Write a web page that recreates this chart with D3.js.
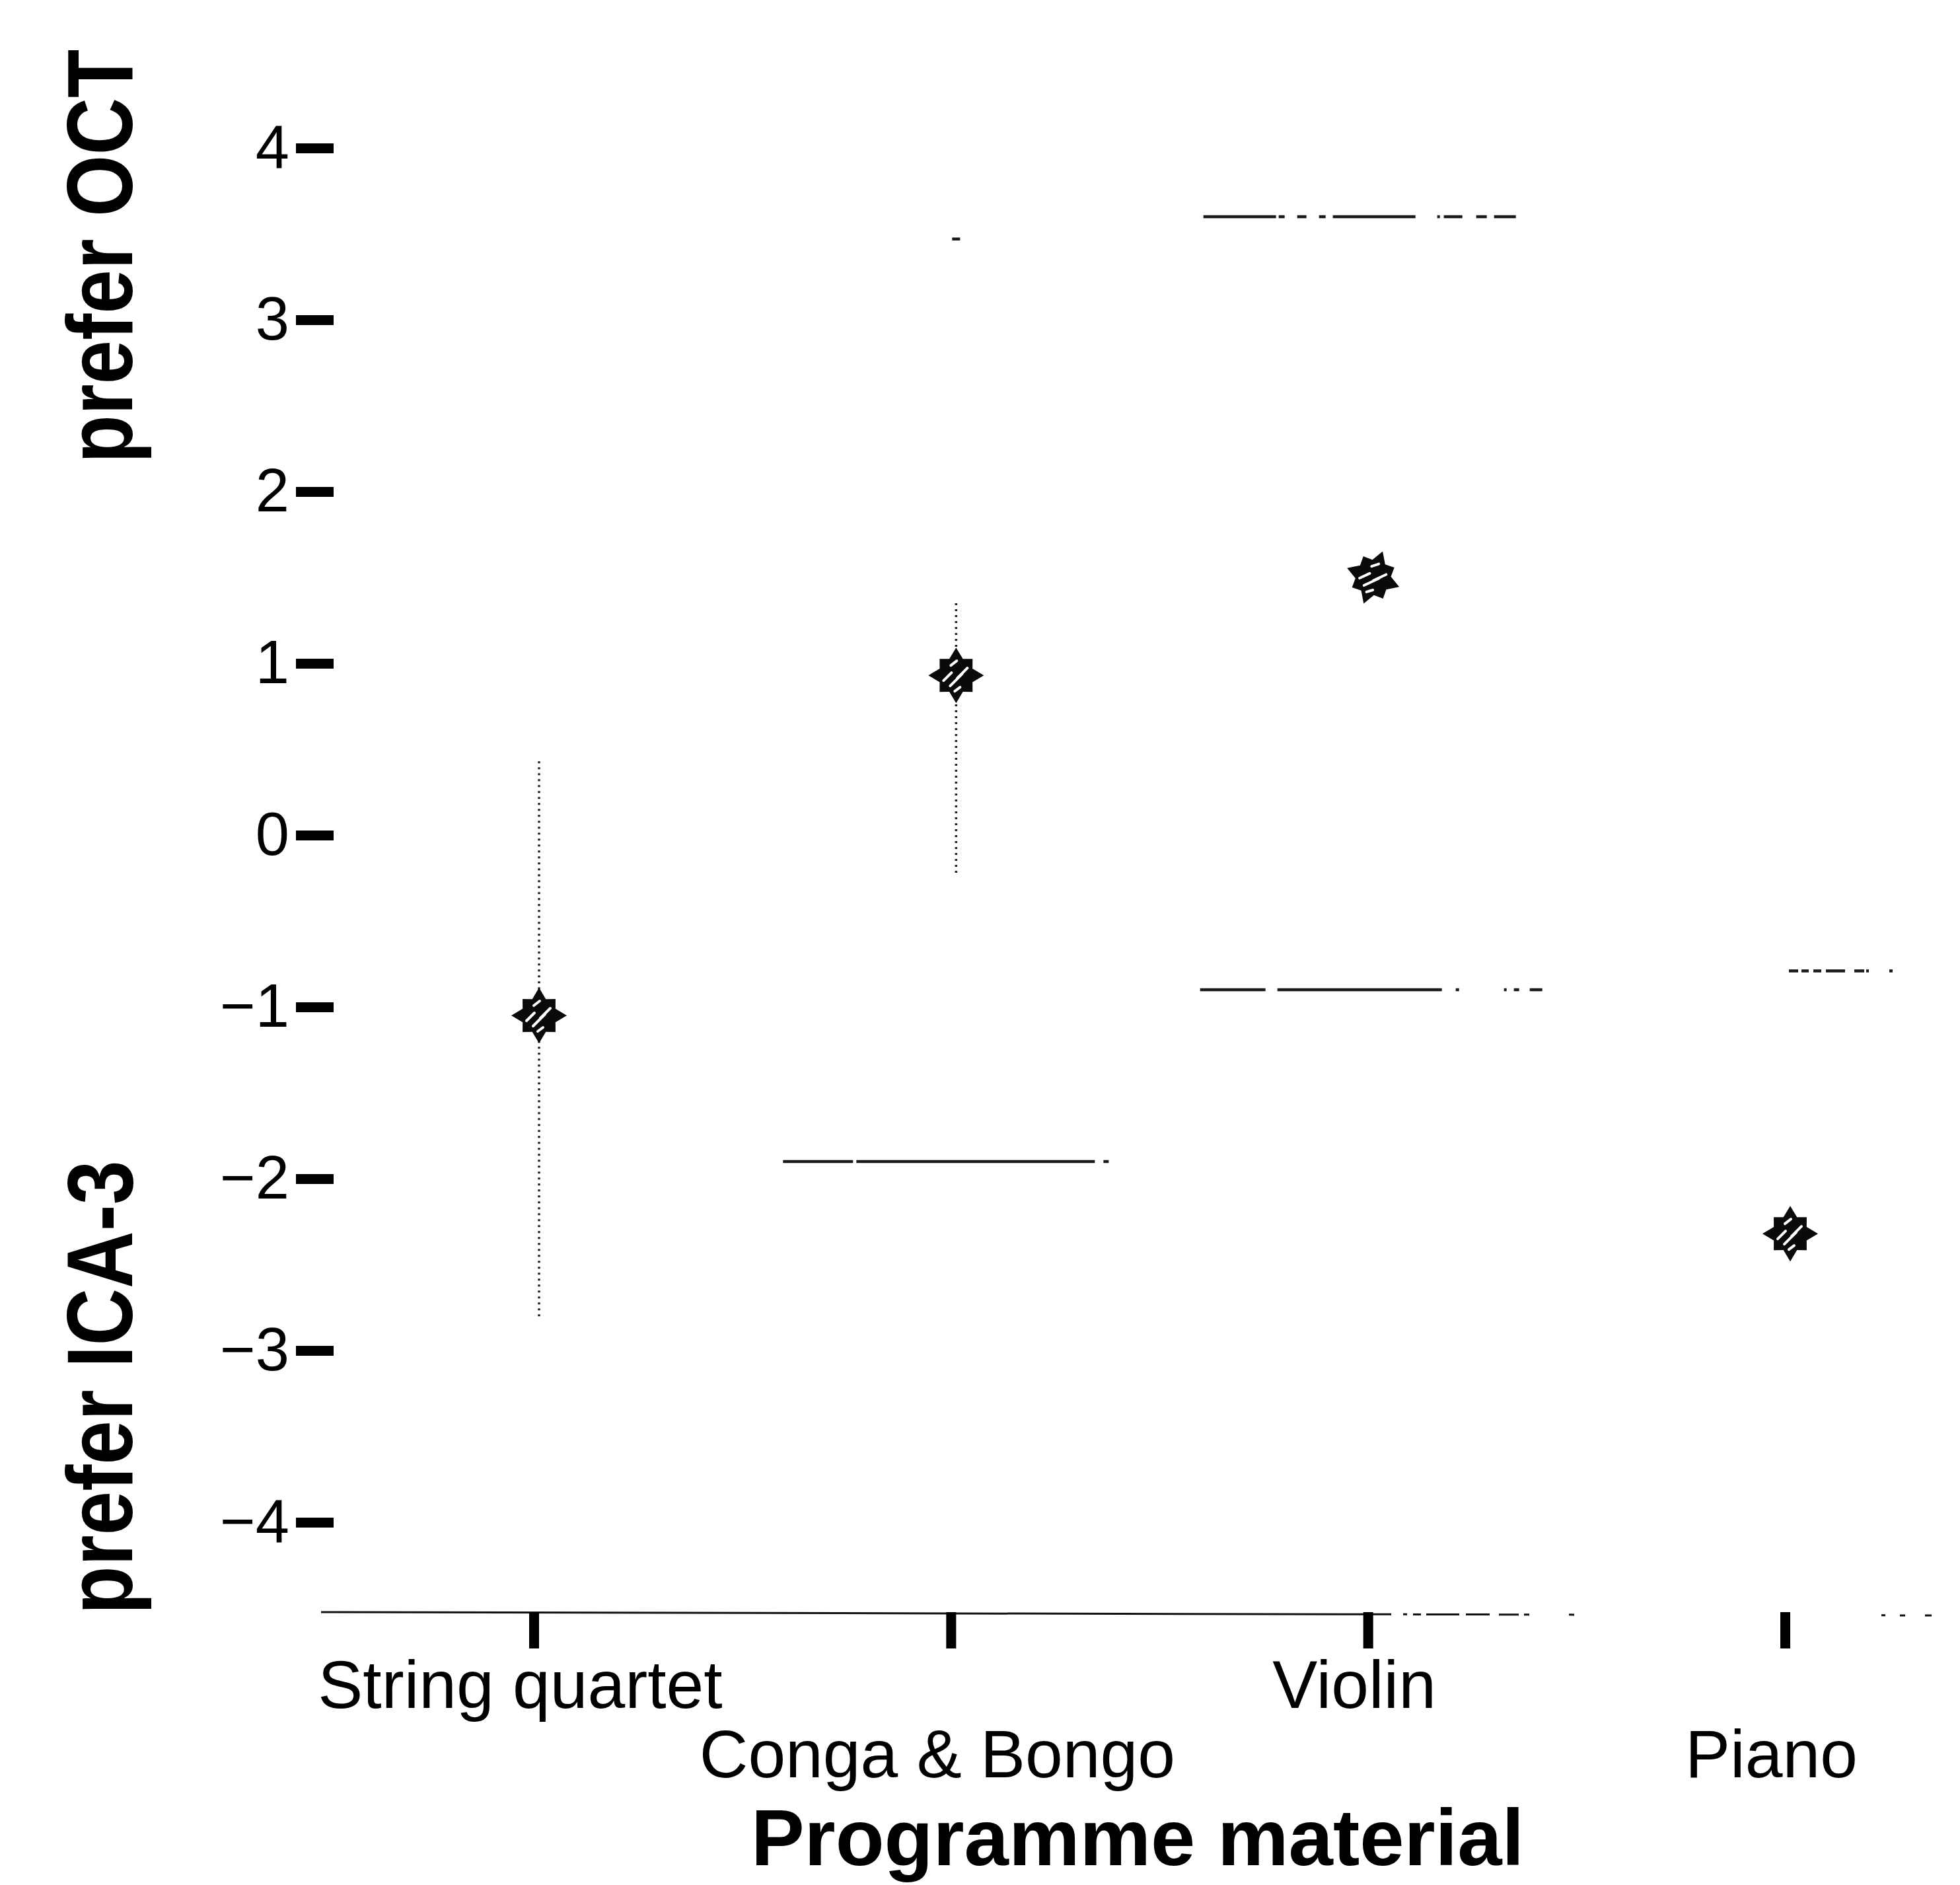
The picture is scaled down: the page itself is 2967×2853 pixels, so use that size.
<!DOCTYPE html>
<html>
<head>
<meta charset="utf-8">
<script src="https://cdn.jsdelivr.net/npm/d3@7"></script>
<style>
  html, body { margin: 0; padding: 0; background: #fff; }
  svg { display: block; font-family: "Liberation Sans", Arial, Helvetica, sans-serif; }
</style>
</head>
<body>
<svg id="chart" width="2967" height="2853"></svg>
<script>
// Preference scores per programme item
const categories = ["String quartet", "Conga & Bongo", "Violin", "Piano"];
const means      = [-1.05, 0.93, 1.50, -2.32];
const whiskerHigh = [0.43, 1.35, null, null];
const whiskerLow  = [-2.81, -0.23, null, null];
const capHigh = [null, 3.47, 3.60, -0.79];
const capLow  = [null, -1.90, -0.90, null];
const yTicks = [-4, -3, -2, -1, 0, 1, 2, 3, 4];

const svg = d3.select("#chart");
svg.append("rect").attr("width", 2967).attr("height", 2853).attr("fill", "#fff");

const x = d3.scalePoint().domain(categories).range([808, 2702]);
const y = d3.scaleLinear().domain([-4, 4]).range([2304, 224]);
const step = x.step();
const markOffset = 8;
const axisY = 2440;

// y axis: heavy short ticks, no spine
const yAxis = svg.append("g")
  .attr("transform", "translate(505,0)")
  .call(d3.axisLeft(y).tickValues(yTicks).tickSize(57).tickPadding(10));
yAxis.select(".domain").remove();
yAxis.selectAll(".tick line").attr("stroke", "#000").attr("stroke-width", 15);
yAxis.selectAll(".tick text")
  .attr("fill", "#000").attr("font-size", 92)
  .attr("font-family", "'Liberation Sans', Arial, sans-serif");

// x axis baseline (broken print line)
svg.append("line")
  .attr("x1", x(categories[0]) - 0.51 * step)
  .attr("x2", x(categories[categories.length - 1]) + 0.36 * step)
  .attr("y1", axisY).attr("y2", axisY + 5)
  .attr("stroke", "#111").attr("stroke-width", 3)
  .attr("stroke-dasharray", "1620 18 6 9 12 8 50 10 36 14 30 8 8 60 8 465 6 22 8 30 10 200");

const xAxis = svg.append("g")
  .attr("transform", `translate(0,${axisY})`)
  .call(d3.axisBottom(x).tickSize(55).tickSizeOuter(0).tickPadding(0));
xAxis.select(".domain").remove();
xAxis.selectAll(".tick line").attr("stroke", "#000").attr("stroke-width", 15);
xAxis.selectAll(".tick text")
  .attr("fill", "#000").attr("font-size", 102)
  .attr("font-family", "'Liberation Sans', Arial, sans-serif")
  .attr("dy", 0).attr("dx", -21)
  .attr("y", (d, i) => (i % 2 === 0 ? 145 : 250));

// whiskers (dotted)
const whiskers = categories.map((c, i) => ({ c, hi: whiskerHigh[i], lo: whiskerLow[i] }))
  .filter(d => d.hi !== null);
svg.append("g").selectAll("line").data(whiskers).join("line")
  .attr("x1", d => x(d.c) + markOffset).attr("x2", d => x(d.c) + markOffset)
  .attr("y1", d => y(d.hi)).attr("y2", d => y(d.lo))
  .attr("stroke", "#222").attr("stroke-width", 3.5)
  .attr("stroke-dasharray", "3 6");

// caps: wide horizontal bars, printed with gaps
const capHalf = 262;
const capDash = {
  "Conga & Bongo|hi": "0 256 12 600",
  "Conga & Bongo|lo": "106 5 361 13 8 200",
  "Violin|hi": "0 5 110 4 9 19 14 19 10 11 125 33 4 6 28 21 16 11 33 200",
  "Violin|lo": "99 18 249 21 5 68 4 11 8 16 19 200",
  "Piano|hi": "0 260 14 5 11 7 12 7 29 14 15 3 4 31 5 300"
};
const caps = [];
categories.forEach((c, i) => {
  if (capHigh[i] !== null) caps.push({ c, v: capHigh[i], k: c + "|hi" });
  if (capLow[i] !== null) caps.push({ c, v: capLow[i], k: c + "|lo" });
});
svg.append("g").selectAll("line").data(caps).join("line")
  .attr("x1", d => x(d.c) + markOffset - capHalf)
  .attr("x2", d => x(d.c) + markOffset + capHalf)
  .attr("y1", d => y(d.v)).attr("y2", d => y(d.v))
  .attr("stroke", "#1a1a1a").attr("stroke-width", 4.5)
  .attr("stroke-dasharray", d => capDash[d.k] || null);

// mean markers: spiky star with hatching
function starPath(R) {
  const pts = [];
  for (let k = 0; k < 16; k++) {
    const a = -Math.PI / 2 + k * Math.PI / 8;
    const r = k % 2 === 0 ? (k % 4 === 0 ? R : R * 0.84) : R * 0.64;
    pts.push([r * Math.cos(a), r * Math.sin(a)]);
  }
  return "M" + pts.map(p => p[0].toFixed(2) + "," + p[1].toFixed(2)).join("L") + "Z";
}
const marks = svg.append("g").selectAll("g")
  .data(categories.map((c, i) => ({ c, v: means[i], i })))
  .join("g")
  .attr("transform", d => `translate(${x(d.c) + markOffset},${y(d.v)}) rotate(${d.i === 2 ? 20 : 0})`);
marks.append("path").attr("d", starPath(42)).attr("fill", "#0a0a0a");
const slits = [[-19, 8, -7, -4], [-9, 16, 9, -2], [2, 4, 17, -11], [-8, -15, 1, -22], [-2, 24, 6, 18]];
marks.selectAll("line.slit").data(slits).join("line")
  .attr("class", "slit")
  .attr("x1", s => s[0]).attr("y1", s => s[1])
  .attr("x2", s => s[2]).attr("y2", s => s[3])
  .attr("stroke", "#fff").attr("stroke-width", 4).attr("stroke-linecap", "round");

// axis titles
svg.append("text")
  .attr("x", 1722).attr("y", 2823)
  .attr("text-anchor", "middle").attr("font-weight", "bold").attr("font-size", 121)
  .text("Programme material");

svg.append("text")
  .attr("transform", "translate(200,388) rotate(-90) scale(1,1.18)")
  .attr("text-anchor", "middle").attr("font-weight", "bold").attr("font-size", 120)
  .text("prefer OCT");

svg.append("text")
  .attr("transform", "translate(200,2100) rotate(-90) scale(1,1.18)")
  .attr("text-anchor", "middle").attr("font-weight", "bold").attr("font-size", 120)
  .text("prefer ICA-3");
</script>
</body>
</html>
